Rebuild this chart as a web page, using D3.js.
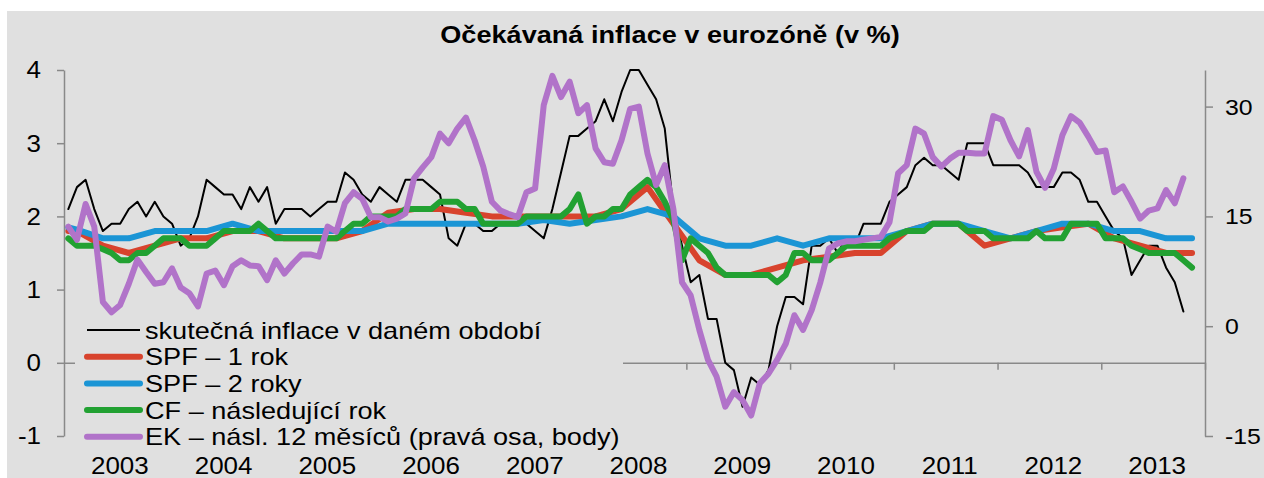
<!DOCTYPE html>
<html>
<head>
<meta charset="utf-8">
<script src="https://cdn.jsdelivr.net/npm/d3@7"></script>
<style>
  body { margin: 0; background: #fff; }
  text { font-family: "Liberation Sans", Arial, sans-serif; fill: #000; }
</style>
</head>
<body>
<svg id="chart" width="1264" height="478"></svg>
<script>
// Year labels on the category axis (monthly data, Jan 2003 - Dec 2013)
const years = ["2003", "2004", "2005", "2006", "2007", "2008", "2009", "2010", "2011", "2012", "2013"];

// Actual HICP inflation, monthly from Jan 2003 (left axis, %)
const actual = [
  2.1, 2.4, 2.5, 2.1, 1.8, 1.9, 1.9, 2.1, 2.2, 2.0, 2.2, 2.0,
  1.9, 1.6, 1.7, 2.0, 2.5, 2.4, 2.3, 2.3, 2.1, 2.4, 2.2, 2.4,
  1.9, 2.1, 2.1, 2.1, 2.0, 2.1, 2.2, 2.2, 2.6, 2.5, 2.3, 2.2,
  2.4, 2.3, 2.2, 2.5, 2.5, 2.5, 2.4, 2.3, 1.7, 1.6, 1.9, 1.9,
  1.8, 1.8, 1.9, 1.9, 1.9, 1.9, 1.8, 1.7, 2.1, 2.6, 3.1, 3.1,
  3.2, 3.3, 3.6, 3.3, 3.7, 4.0, 4.0, 3.8, 3.6, 3.2, 2.1, 1.6,
  1.1, 1.2, 0.6, 0.6, 0.0, -0.1, -0.6, -0.2, -0.3, -0.1, 0.5, 0.9,
  0.9, 0.8, 1.6, 1.6, 1.7, 1.5, 1.7, 1.6, 1.9, 1.9, 1.9, 2.2,
  2.3, 2.4, 2.7, 2.8, 2.7, 2.7, 2.6, 2.5, 3.0, 3.0, 3.0, 2.7,
  2.7, 2.7, 2.7, 2.6, 2.4, 2.4, 2.4, 2.6, 2.6, 2.5, 2.2, 2.2,
  2.0, 1.8, 1.7, 1.2, 1.4, 1.6, 1.6, 1.3, 1.1, 0.7
];

// SPF survey rounds (month index from Jan 2003) and expectations
const spfMonths = [0, 1, 4, 7, 10, 13, 16, 19, 22, 25, 28, 31, 34, 37, 40, 43, 46, 49, 52, 55, 58, 61,
  64, 67, 70, 73, 76, 79, 82, 85, 88, 91, 94, 97, 100, 103, 106, 109, 112, 115, 118, 121, 124, 127, 130];
const spf1y = [1.8, 1.8, 1.6, 1.5, 1.6, 1.7, 1.7, 1.8, 1.8, 1.7, 1.7, 1.7, 1.8, 2.05, 2.1, 2.1, 2.05, 2.0, 2.0, 2.0, 2.0, 2.0,
  2.1, 2.4, 1.9, 1.4, 1.2, 1.2, 1.3, 1.4, 1.45, 1.5, 1.5, 1.8, 1.9, 1.9, 1.6, 1.7, 1.8, 1.85, 1.9, 1.7, 1.6, 1.5, 1.5];
const spf2y = [1.85, 1.82, 1.7, 1.7, 1.8, 1.8, 1.8, 1.9, 1.8, 1.8, 1.8, 1.8, 1.8, 1.9, 1.9, 1.9, 1.9, 1.9, 1.9, 1.95, 1.9, 1.95,
  2.0, 2.1, 2.0, 1.7, 1.6, 1.6, 1.7, 1.6, 1.7, 1.7, 1.7, 1.8, 1.9, 1.9, 1.8, 1.7, 1.8, 1.9, 1.9, 1.8, 1.8, 1.7, 1.7];

// Consensus Forecasts - next year, monthly from Jan 2003
const cfNext = [
  1.7, 1.6, 1.6, 1.6, 1.55, 1.5, 1.4, 1.4, 1.5, 1.5, 1.6, 1.7,
  1.7, 1.7, 1.6, 1.6, 1.6, 1.7, 1.8, 1.8, 1.8, 1.8, 1.9, 1.8,
  1.7, 1.7, 1.7, 1.7, 1.7, 1.7, 1.7, 1.7, 1.8, 1.9, 1.9, 2.0,
  2.0, 2.0, 2.0, 2.1, 2.1, 2.1, 2.1, 2.2, 2.2, 2.2, 2.1, 2.1,
  1.9, 1.9, 1.9, 1.9, 1.9, 2.0, 2.0, 2.0, 2.0, 2.0, 2.1, 2.3,
  1.9, 2.0, 2.0, 2.1, 2.1, 2.3, 2.4, 2.5, 2.4, 2.2, 1.95, 1.4,
  1.7, 1.6, 1.5, 1.3, 1.2, 1.2, 1.2, 1.2, 1.2, 1.2, 1.1, 1.2,
  1.5, 1.5, 1.4, 1.4, 1.4, 1.5, 1.6, 1.6, 1.6, 1.6, 1.6, 1.7,
  1.75, 1.8, 1.8, 1.8, 1.9, 1.9, 1.9, 1.9, 1.8, 1.8, 1.8, 1.7,
  1.7, 1.7, 1.7, 1.7, 1.8, 1.7, 1.7, 1.7, 1.9, 1.9, 1.9, 1.9,
  1.7, 1.7, 1.7, 1.6, 1.55, 1.5, 1.5, 1.5, 1.5, 1.4, 1.3
];

// European Commission consumer survey, next 12 months (right axis, balance)
const ekNext12 = [
  13.6, 11.8, 16.7, 13.6, 3.3, 1.9, 2.9, 5.8, 9.1, 7.4, 5.8, 6.0,
  7.9, 5.3, 4.5, 2.7, 7.2, 7.6, 5.6, 8.2, 9.0, 8.3, 8.2, 6.3,
  9.0, 7.2, 8.6, 9.8, 9.8, 9.5, 13.6, 12.9, 16.8, 18.3, 17.4, 14.9,
  14.9, 14.3, 14.7, 15.4, 20.2, 21.7, 23.1, 26.3, 25.0, 27.0, 28.5, 25.4,
  21.8, 17.0, 15.8, 15.3, 14.9, 18.3, 18.8, 30.2, 34.2, 31.3, 33.4, 29.1,
  30.2, 24.3, 22.4, 22.2, 25.4, 29.7, 30.0, 23.6, 19.3, 22.0, 16.0, 6.0,
  4.2, -0.5, -4.6, -6.9, -11.0, -9.0, -10.1, -12.2, -7.8, -6.5, -4.6, -2.4,
  1.5, -0.5, 2.2, 6.0, 10.6, 11.3, 11.6, 11.6, 11.8, 12.0, 12.2, 14.2,
  20.9, 22.0, 27.0, 26.3, 23.1, 21.8, 22.9, 23.7, 23.7, 23.6, 23.6, 28.7,
  28.2, 25.4, 23.2, 26.8, 21.1, 18.9, 21.5, 26.1, 28.7, 27.8, 25.9, 23.8,
  24.0, 18.3, 19.1, 17.0, 14.7, 15.8, 16.1, 18.6, 16.8, 20.2
];

const leftTicks = [-1, 0, 1, 2, 3, 4];
const rightTicks = [-15, 0, 15, 30];

const legendLabels = [
  "skutečná inflace v daném období",
  "SPF – 1 rok",
  "SPF – 2 roky",
  "CF – následující rok",
  "EK – násl. 12 měsíců (pravá osa, body)"
];
const colors = ["#000000", "#d8432d", "#1b95d5", "#22a132", "#b173c9"];
const widths = [2, 6, 6, 6, 6];

// the source picture is a bit wider than tall, so text is stretched too
const SX = 1.13;

const svg = d3.select("#chart");

// grey chart area
svg.append("rect")
  .attr("x", 7).attr("y", 11)
  .attr("width", 1257).attr("height", 467)
  .attr("fill", "#e0e0e0");

// scales: 132 monthly categories, points in the middle of each month
const nMonths = years.length * 12;
const x = d3.scaleLinear().domain([0, nMonths]).range([64, 1205]);
const yL = d3.scaleLinear().domain([-1, 4]).range([436, 70]);
const yR = d3.scaleLinear().domain([-15, 35]).range([436, 70]);

const axisColor = "#898989";

function styleAxis(g) {
  g.selectAll("path, line").attr("stroke", axisColor).attr("stroke-width", 1.5);
  g.selectAll("text")
    .attr("font-size", 23)
    .attr("font-family", "'Liberation Sans', Arial, sans-serif")
    .attr("fill", "#000");
}

// left axis
svg.append("g")
  .attr("transform", "translate(64,0)")
  .call(d3.axisLeft(yL).tickValues(leftTicks).tickSize(7).tickSizeOuter(0).tickFormat(d => String(d)))
  .call(styleAxis)
  .call(g => g.selectAll("text").attr("x", -23 / SX).attr("dy", "0.34em")
    .attr("transform", `scale(${SX},1)`));

// right axis
svg.append("g")
  .attr("transform", "translate(1205,0)")
  .call(d3.axisRight(yR).tickValues(rightTicks).tickSize(8).tickSizeOuter(0).tickFormat(d => String(d)))
  .call(styleAxis)
  .call(g => g.selectAll("text").attr("x", 20 / SX).attr("dy", "0.34em")
    .attr("font-size", 22)
    .attr("transform", `scale(${SX},1)`));

// category axis at zero, ticks between years
const yearEdges = d3.range(1, years.length + 1).map(k => k * 12);
svg.append("g")
  .attr("transform", `translate(0,${yL(0)})`)
  .call(d3.axisBottom(x).tickValues(yearEdges).tickSize(7).tickSizeOuter(0).tickFormat(""))
  .call(styleAxis);

// year labels centred in each year
svg.append("g")
  .selectAll("text")
  .data(years)
  .join("text")
  .attr("transform", (d, i) => `translate(${x(i * 12 + 6) + 4},474) scale(${SX},1)`)
  .attr("text-anchor", "middle")
  .attr("font-size", 23)
  .text(d => d);

// series
const monthly = (scale) => d3.line()
  .x((d, i) => x(i + 0.5))
  .y(d => scale(d));

const plot = svg.append("g")
  .attr("fill", "none")
  .attr("stroke-linejoin", "round")
  .attr("stroke-linecap", "round");

plot.append("path")
  .attr("d", monthly(yL)(actual))
  .attr("stroke", colors[0]).attr("stroke-width", widths[0]);

const spfLine = d3.line()
  .x(d => x(d[0] + 0.5))
  .y(d => yL(d[1]));

plot.append("path")
  .attr("d", spfLine(d3.zip(spfMonths, spf1y)))
  .attr("stroke", colors[1]).attr("stroke-width", widths[1]);

plot.append("path")
  .attr("d", spfLine(d3.zip(spfMonths, spf2y)))
  .attr("stroke", colors[2]).attr("stroke-width", widths[2]);

plot.append("path")
  .attr("d", monthly(yL)(cfNext))
  .attr("stroke", colors[3]).attr("stroke-width", widths[3]);

plot.append("path")
  .attr("d", monthly(yR)(ekNext12))
  .attr("stroke", colors[4]).attr("stroke-width", widths[4]);

// legend, with its own grey box that hides the axis behind it
const legend = svg.append("g");
legend.append("rect")
  .attr("x", 75).attr("y", 318)
  .attr("width", 548).attr("height", 134)
  .attr("fill", "#e0e0e0");

const rows = legend.selectAll("g.row")
  .data(legendLabels)
  .join("g")
  .attr("class", "row")
  .attr("transform", (d, i) => `translate(0,${330 + i * 26.7})`);

rows.append("line")
  .attr("x1", 87).attr("x2", 140)
  .attr("stroke", (d, i) => colors[i])
  .attr("stroke-width", (d, i) => widths[i])
  .attr("stroke-linecap", (d, i) => i ? "round" : "butt");

rows.append("text")
  .attr("transform", `translate(145,0) scale(${SX},1)`)
  .attr("dy", "0.36em")
  .attr("font-size", 24)
  .text(d => d);

// title
svg.append("text")
  .attr("transform", `translate(670,43) scale(${SX},1)`)
  .attr("text-anchor", "middle")
  .attr("font-size", 24)
  .attr("font-weight", "bold")
  .text("Očekávaná inflace v eurozóně (v %)");
</script>
</body>
</html>
